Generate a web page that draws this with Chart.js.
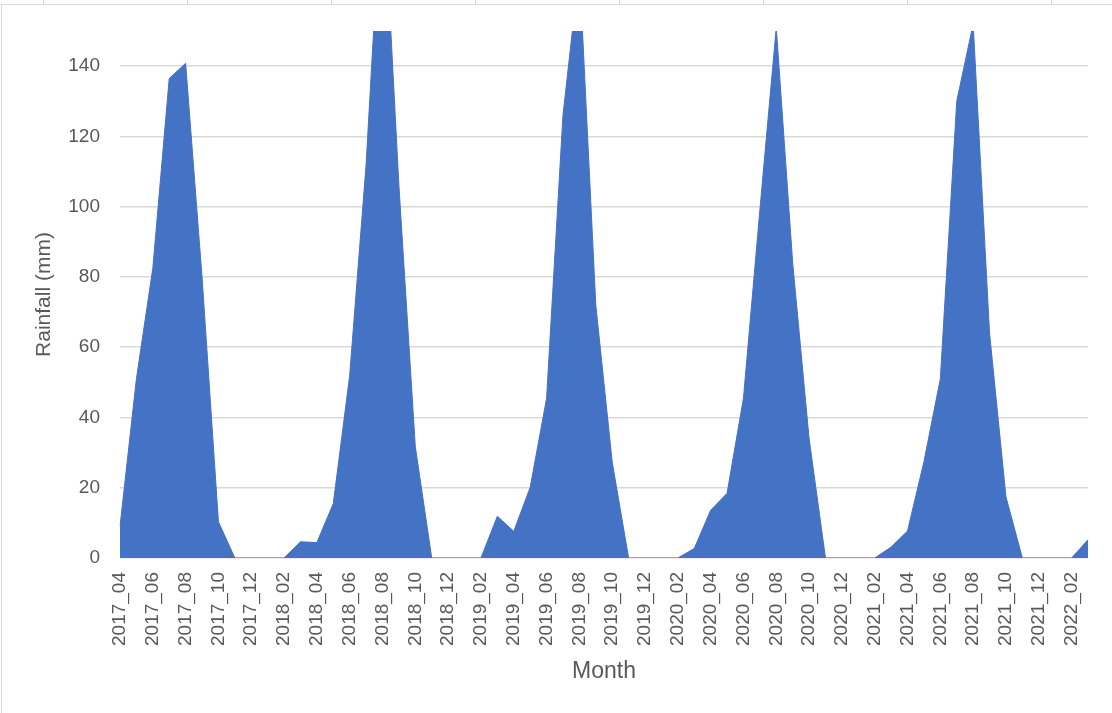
<!DOCTYPE html>
<html>
<head>
<meta charset="utf-8">
<script src="https://cdn.jsdelivr.net/npm/chart.js@4.4.1/dist/chart.umd.min.js"></script>
<style>
  html, body { margin: 0; padding: 0; background: #ffffff; }
  body { width: 1112px; height: 713px; position: relative; overflow: hidden; }
  #cells { position: absolute; left: 0; top: 0; width: 1112px; height: 4px;
           background: repeating-linear-gradient(to right, transparent 0, transparent 43px, #d4d4d4 43px, #d4d4d4 44px, transparent 44px, transparent 144px); }
  #frame { position: absolute; left: 1px; top: 4px; width: 1111px; height: 709px;
           border-left: 1px solid #d9d9d9; border-top: 1px solid #d9d9d9; box-sizing: border-box; }
  #wrap { position: absolute; left: 0; top: 0; width: 1112px; height: 713px; }
</style>
</head>
<body>
<div id="cells"></div>
<div id="frame"></div>
<div id="wrap"><canvas id="c" width="1112" height="713"></canvas></div>
<script>
const months = [
  '2017_04','2017_05','2017_06','2017_07','2017_08','2017_09','2017_10','2017_11','2017_12',
  '2018_01','2018_02','2018_03','2018_04','2018_05','2018_06','2018_07','2018_08','2018_09','2018_10','2018_11','2018_12',
  '2019_01','2019_02','2019_03','2019_04','2019_05','2019_06','2019_07','2019_08','2019_09','2019_10','2019_11','2019_12',
  '2020_01','2020_02','2020_03','2020_04','2020_05','2020_06','2020_07','2020_08','2020_09','2020_10','2020_11','2020_12',
  '2021_01','2021_02','2021_03','2021_04','2021_05','2021_06','2021_07','2021_08','2021_09','2021_10','2021_11','2021_12',
  '2022_01','2022_02','2022_03'
];
const rainfall = [
  9, 51, 82.5, 136.5, 140.8, 80, 10.3, 0, 0,
  0, 0, 4.6, 4.4, 15.5, 52, 112, 195, 106, 31.7, 0, 0,
  0, 0, 11.9, 7.6, 20.1, 45.4, 126, 168, 72, 27.3, 0, 0,
  0, 0, 2.7, 13.6, 18.4, 45.5, 99, 151, 84, 34, 0, 0,
  0, 0, 3.1, 7.7, 27.4, 51, 130, 152, 64, 17.4, 0, 0,
  0, 0, 5.2
];
const xTickLabels = [
  '2017_04','2017_06','2017_08','2017_10','2017_12','2018_02','2018_04','2018_06','2018_08','2018_10','2018_12',
  '2019_02','2019_04','2019_06','2019_08','2019_10','2019_12','2020_02','2020_04','2020_06','2020_08','2020_10','2020_12',
  '2021_02','2021_04','2021_06','2021_08','2021_10','2021_12','2022_02'
];
const yTickValues = [0, 20, 40, 60, 80, 100, 120, 140];
const yMax = 150;
const xTitle = 'Month';
const yTitle = 'Rainfall (mm)';

const textColor = '#595959';
const gridColor = '#d9d9d9';
const fillColor = '#4472c4';
const fontFamily = "'Liberation Sans', Arial, sans-serif";

new Chart(document.getElementById('c'), {
  type: 'line',
  data: {
    labels: months,
    datasets: [{
      label: 'Rainfall',
      data: rainfall,
      fill: 'origin',
      backgroundColor: fillColor,
      borderColor: fillColor,
      borderWidth: 1,
      pointRadius: 0,
      pointHoverRadius: 0,
      tension: 0
    }]
  },
  options: {
    responsive: false,
    animation: false,
    events: [],
    layout: { padding: { top: 31, right: 24, left: 0, bottom: 0 } },
    plugins: { legend: { display: false }, tooltip: { enabled: false }, title: { display: false } },
    scales: {
      x: {
        type: 'category',
        offset: false,
        grid: { display: false, drawTicks: false },
        border: { display: false },
        ticks: {
          autoSkip: false,
          minRotation: 90,
          maxRotation: 90,
          padding: 14,
          color: textColor,
          font: { family: fontFamily, size: 19 },
          callback: function (value, index) {
            const lab = months[index];
            return xTickLabels.includes(lab) ? lab : '';
          }
        },
        title: {
          display: true,
          text: xTitle,
          color: textColor,
          font: { family: fontFamily, size: 23 },
          padding: { top: 0, bottom: 28 }
        },
        afterFit: function (scale) {
          scale.height = 155;
          scale.paddingLeft = 0;
          scale.paddingRight = 0;
        }
      },
      y: {
        min: 0,
        max: yMax,
        grid: { color: gridColor, lineWidth: 1.6, drawTicks: false },
        border: { display: false },
        afterBuildTicks: function (scale) { scale.ticks = yTickValues.map(v => ({ value: v })); },
        ticks: {
          padding: 20,
          color: textColor,
          font: { family: fontFamily, size: 19 }
        },
        title: {
          display: true,
          text: yTitle,
          color: textColor,
          font: { family: fontFamily, size: 21 },
          padding: { top: 32, bottom: 0 }
        },
        afterFit: function (scale) {
          scale.width = 120;
          scale.paddingTop = 0;
          scale.paddingBottom = 0;
        }
      }
    }
  }
});
</script>
</body>
</html>
